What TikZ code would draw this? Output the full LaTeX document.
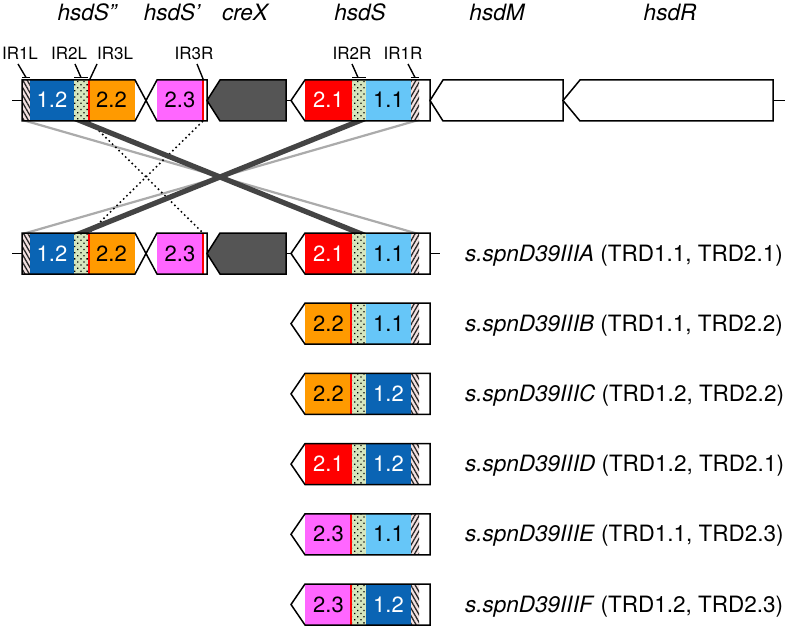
\documentclass[tikz,border=0pt]{standalone}
\usepackage{fontspec}
\setmainfont{TeX Gyre Heros}
\usetikzlibrary{patterns.meta}
\definecolor{cBlue}{HTML}{0A64B4}
\definecolor{cLBlue}{HTML}{66C6F8}
\definecolor{cOrange}{HTML}{FF9A00}
\definecolor{cRed}{HTML}{FF0000}
\definecolor{cPink}{HTML}{FF66FF}
\definecolor{cGreen}{HTML}{D6E6BE}
\definecolor{cHatch}{HTML}{F2E0E0}
\definecolor{cCre}{HTML}{555555}
\definecolor{cDark}{HTML}{444444}
\definecolor{cGrey}{HTML}{ABABAB}
\tikzset{
  outline/.style={draw=black,line width=1.5pt,line join=miter},
  ir3/.style={draw=cRed,line width=1.6pt},
  dotpat/.style={pattern={Dots[radius=0.9pt,distance=4.4pt,angle=45]},pattern color=black},
  hatchNE/.style={pattern={Lines[angle=60,distance=3.8pt,line width=1.3pt]},pattern color=black!85},
  hatchNW/.style={pattern={Lines[angle=-60,distance=3.8pt,line width=1.3pt]},pattern color=black!85},
  num/.style={font=\fontsize{22}{26}\selectfont,anchor=base,inner sep=0pt},
  genelbl/.style={font=\fontsize{22.5}{26}\selectfont\itshape,anchor=base,inner sep=0pt},
  irlbl/.style={font=\fontsize{17}{20}\selectfont,anchor=base,inner sep=0pt},
  strain/.style={font=\fontsize{22.5}{26}\selectfont,anchor=base west,inner sep=0pt},
  irtick/.style={draw=black,line width=1.4pt},
  lightx/.style={fill=cGrey},
  darkx/.style={fill=cDark},
  dottedx/.style={draw=black,line width=1.5pt,dash pattern=on 1.6pt off 3pt},
}
% hsdS-type gene: #1 y, #2 name, #3 TRD2 colour, #4 TRD2 text, #5 its text colour,
% #6 TRD1 colour, #7 TRD1 text, #8 its text colour, #9 hatch style
\newcommand\hsdSgene[9]{%
  \fill[#3] (305,{#1-20.5}) rectangle (352,{#1+20.5});
  \fill[cGreen] (352,{#1-20.5}) rectangle (366,{#1+20.5});
  \fill[dotpat] (352,{#1-20.5}) rectangle (366,{#1+20.5});
  \fill[#6] (366,{#1-20.5}) rectangle (411,{#1+20.5});
  \fill[cHatch] (411,{#1-20.5}) rectangle (419,{#1+20.5});
  \fill[#9] (411,{#1-20.5}) rectangle (419,{#1+20.5});
  \draw[ir3] (351.2,{#1-20.5}) -- (351.2,{#1+20.5});
  \draw[outline] (291,#1) -- (305,{#1-20.5}) -- (430,{#1-20.5}) -- (430,{#1+20.5}) -- (305,{#1+20.5}) -- cycle;
  \node[num,text=#5] (#2-trd2) at (328.5,{#1+7.5}) {#4};
  \node[num,text=#8] (#2-trd1) at (388.5,{#1+7.5}) {#7};
}
% hsdS'', hsdS' and creX: #1 y, #2 name
\newcommand\leftgenes[2]{%
  \draw[outline] (12,#1) -- (22,#1);
  \fill[cHatch] (22,{#1-20.5}) rectangle (30,{#1+20.5});
  \fill[hatchNW] (22,{#1-20.5}) rectangle (30,{#1+20.5});
  \fill[cBlue] (30,{#1-20.5}) rectangle (74,{#1+20.5});
  \fill[cGreen] (74,{#1-20.5}) rectangle (88,{#1+20.5});
  \fill[dotpat] (74,{#1-20.5}) rectangle (88,{#1+20.5});
  \fill[cOrange] (88,{#1-20.5}) rectangle (135,{#1+20.5});
  \draw[ir3] (88.8,{#1-20.5}) -- (88.8,{#1+20.5});
  \draw[outline] (22,{#1-20.5}) -- (135,{#1-20.5}) -- (146,#1) -- (135,{#1+20.5}) -- (22,{#1+20.5}) -- cycle;
  \fill[cPink] (157,{#1-20.5}) rectangle (203,{#1+20.5});
  \draw[ir3] (203,{#1-20.5}) -- (203,{#1+20.5});
  \draw[outline] (146,#1) -- (157,{#1-20.5}) -- (207,{#1-20.5}) -- (207,{#1+20.5}) -- (157,{#1+20.5}) -- cycle;
  \draw[outline,fill=cCre] (207,#1) -- (220,{#1-20.5}) -- (286,{#1-20.5}) -- (286,{#1+20.5}) -- (220,{#1+20.5}) -- cycle;
  \draw[outline] (286,#1) -- (291,#1);
  \node[num,text=white] (#2-a12) at (52,{#1+7.5}) {1.2};
  \node[num] (#2-a22) at (111.5,{#1+7.5}) {2.2};
  \node[num] (#2-a23) at (180,{#1+7.5}) {2.3};
}
\begin{document}
\begin{tikzpicture}[x=1pt,y=-1pt]
\useasboundingbox (0,0) rectangle (788,626);
% crossing connectors (behind the genes)
\coordinate (t1L) at (22,121); \coordinate (t1Lb) at (30,121);
\coordinate (t1R) at (411,121); \coordinate (t1Rb) at (419,121);
\coordinate (t2L) at (74,121); \coordinate (t2Lb) at (88,121);
\coordinate (t2R) at (352,121); \coordinate (t2Rb) at (366,121);
\coordinate (t3L) at (89,121); \coordinate (t3R) at (203,121);
\coordinate (m1L) at (22,233); \coordinate (m1Lb) at (30,233);
\coordinate (m1R) at (411,233); \coordinate (m1Rb) at (419,233);
\coordinate (m2L) at (74,233); \coordinate (m2Lb) at (88,233);
\coordinate (m2R) at (352,233); \coordinate (m2Rb) at (366,233);
\coordinate (m3L) at (89,233); \coordinate (m3R) at (203,233);
\fill[lightx] (t1L) -- (t1Lb) -- (m1Rb) -- (m1R) -- cycle;
\fill[lightx] (t1R) -- (t1Rb) -- (m1Lb) -- (m1L) -- cycle;
\draw[dottedx] (t3L) -- (m3R);
\draw[dottedx] (t3R) -- (m3L);
\fill[darkx] (t2L) -- (t2Lb) -- (m2Rb) -- (m2R) -- cycle;
\fill[darkx] (t2R) -- (t2Rb) -- (m2Lb) -- (m2L) -- cycle;
% gene names
\node[genelbl] (nS2) at (87,21) {hsdS”};
\node[genelbl] (nS1) at (172,21) {hsdS’};
\node[genelbl] (ncre) at (245,21) {creX};
\node[genelbl] (nS) at (360,21) {hsdS};
\node[genelbl] (nM) at (497,21) {hsdM};
\node[genelbl] (nR) at (670,21) {hsdR};
% inverted repeat labels
\node[irlbl] (ir1l) at (20,60) {IR1L};
\node[irlbl] (ir2l) at (69,60) {IR2L};
\node[irlbl] (ir3l) at (115,60) {IR3L};
\node[irlbl] (ir3r) at (194,60) {IR3R};
\node[irlbl] (ir2r) at (352,60) {IR2R};
\node[irlbl] (ir1r) at (403,60) {IR1R};
% top row
\leftgenes{100.5}{top}
\hsdSgene{100.5}{topS}{cRed}{2.1}{white}{cLBlue}{1.1}{black}{hatchNE}
\draw[outline,fill=white] (430,100.5) -- (443,80) -- (563,80) -- (563,121) -- (443,121) -- cycle;
\draw[outline,fill=white] (563,100.5) -- (580,80) -- (773,80) -- (773,121) -- (580,121) -- cycle;
\draw[outline] (773,100.5) -- (785,100.5);
% IR ticks
\draw[irtick] (18,64) -- (26,77.5); \draw[irtick] (22,77.5) -- (30,77.5);
\draw[irtick] (75,64) -- (81,77.5); \draw[irtick] (74,77.5) -- (88,77.5);
\draw[irtick] (97,64) -- (89.5,80);
\draw[irtick] (197,64) -- (203.5,80);
\draw[irtick] (352,64) -- (358,77.5); \draw[irtick] (352,77.5) -- (366,77.5);
\draw[irtick] (408,64) -- (415,77.5); \draw[irtick] (411,77.5) -- (419,77.5);
% middle row (A)
\leftgenes{253.5}{mid}
\hsdSgene{253.5}{rA}{cRed}{2.1}{white}{cLBlue}{1.1}{black}{hatchNE}
\draw[outline] (430,253.5) -- (440,253.5);
\node[strain] (lA) at (465,{253.5+7.5}) {\textit{s.spnD39IIIA} (TRD1.1, TRD2.1)};
% rows B-F
\hsdSgene{323.7}{rB}{cOrange}{2.2}{black}{cLBlue}{1.1}{black}{hatchNE}
\node[strain] (lB) at (465,{323.7+7.5}) {\textit{s.spnD39IIIB} (TRD1.1, TRD2.2)};
\hsdSgene{393.9}{rC}{cOrange}{2.2}{black}{cBlue}{1.2}{white}{hatchNW}
\node[strain] (lC) at (465,{393.9+7.5}) {\textit{s.spnD39IIIC} (TRD1.2, TRD2.2)};
\hsdSgene{464.1}{rD}{cRed}{2.1}{white}{cBlue}{1.2}{white}{hatchNW}
\node[strain] (lD) at (465,{464.1+7.5}) {\textit{s.spnD39IIID} (TRD1.2, TRD2.1)};
\hsdSgene{534.3}{rE}{cPink}{2.3}{black}{cLBlue}{1.1}{black}{hatchNE}
\node[strain] (lE) at (465,{534.3+7.5}) {\textit{s.spnD39IIIE} (TRD1.1, TRD2.3)};
\hsdSgene{604.5}{rF}{cPink}{2.3}{black}{cBlue}{1.2}{white}{hatchNW}
\node[strain] (lF) at (465,{604.5+7.5}) {\textit{s.spnD39IIIF} (TRD1.2, TRD2.3)};
\end{tikzpicture}
\end{document}
